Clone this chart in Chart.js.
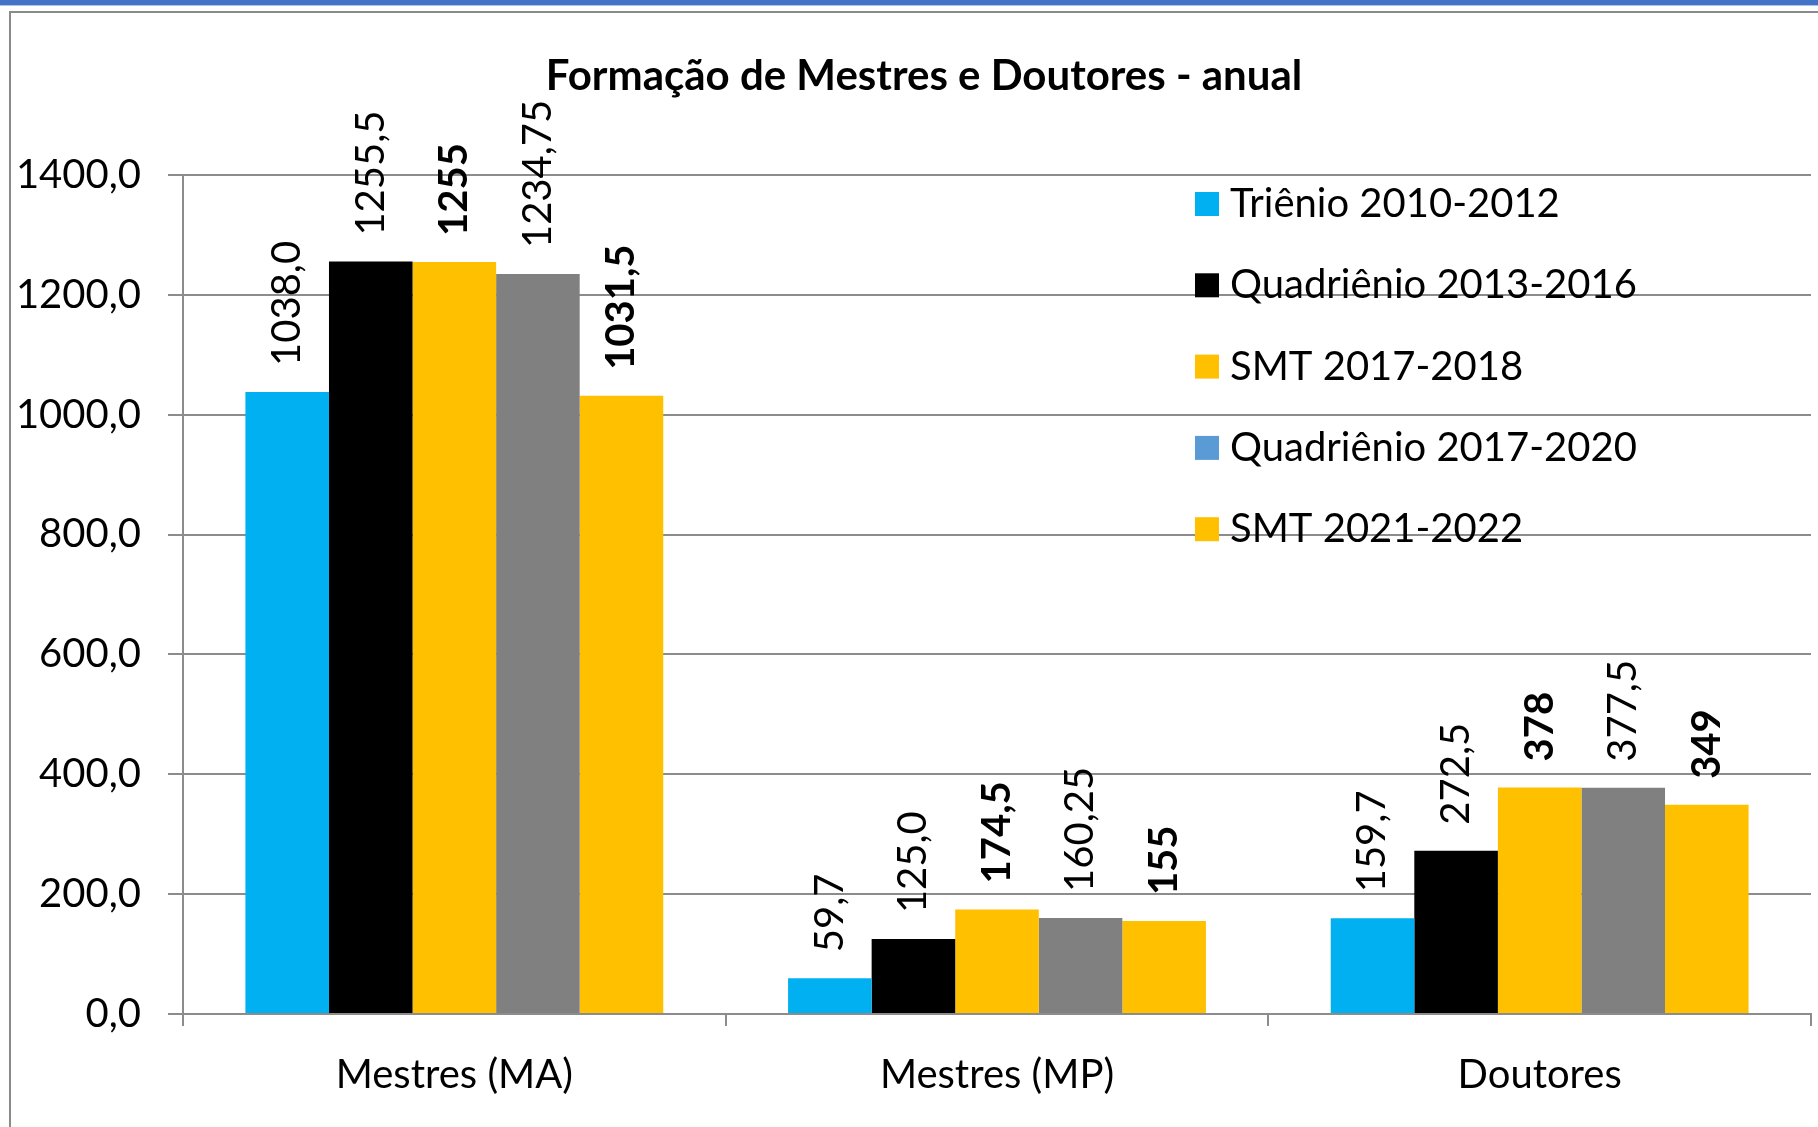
<!DOCTYPE html>
<html>
<head>
<meta charset="utf-8">
<script src="https://cdn.jsdelivr.net/npm/chart.js@4.4.1/dist/chart.umd.min.js"></script>
<style>
  html, body { margin: 0; padding: 0; background: #fff; overflow: hidden; }
  #wrap { position: relative; width: 1818px; height: 1127px; }
  .topbar { position: absolute; left: 0; top: 0; width: 1818px; height: 5px; background: #4472c4; }
  .topline { position: absolute; left: 0; top: 5px; width: 1818px; height: 1px; background: #a9c4eb; }
  .frame { position: absolute; left: 9px; top: 11px; width: 1830px; height: 1140px;
    border-left: 2px solid #8a8a8a; border-top: 2px solid #8a8a8a; }
  canvas { position: absolute; left: 0; top: 0; }
</style>
</head>
<body>
<div id="wrap">
  <div class="topbar"></div>
  <div class="topline"></div>
  <div class="frame"></div>
  <canvas id="chart" width="1818" height="1127"></canvas>
</div>
<script>
const categories = ["Mestres (MA)", "Mestres (MP)", "Doutores"];
const seriesNames = [
  "Triênio 2010-2012",
  "Quadriênio 2013-2016",
  "SMT 2017-2018",
  "Quadriênio 2017-2020",
  "SMT 2021-2022",
];
const trienio1012 = [1038.0, 59.7, 159.7];
const quad1316 = [1255.5, 125.0, 272.5];
const smt1718 = [1255, 174.5, 378];
const quad1720 = [1234.75, 160.25, 377.5];
const smt2122 = [1031.5, 155, 349];
const yTicks = [0, 200, 400, 600, 800, 1000, 1200, 1400];
const chartTitle = "Formação de Mestres e Doutores - anual";

// styling
const barColors = ["#00b0f0", "#000000", "#ffc000", "#808080", "#ffc000"];
const legendColors = ["#00b0f0", "#000000", "#ffc000", "#5b9bd5", "#ffc000"];
const labelBold = [false, false, true, false, true];
const labelDecimals = [1, 1, null, null, null];
const gridColor = "#8c8c8c";
const FONT = "Lato, 'Open Sans', sans-serif";

function fmt(v, dec) {
  const s = dec === null ? String(v) : v.toFixed(dec);
  return s.replace(".", ",");
}

const allSeries = [trienio1012, quad1316, smt1718, quad1720, smt2122];

// rotated value labels above each bar
const valueLabels = {
  id: "valueLabels",
  afterDatasetsDraw(chart) {
    const ctx = chart.ctx;
    chart.data.datasets.forEach((ds, i) => {
      const meta = chart.getDatasetMeta(i);
      meta.data.forEach((bar, j) => {
        ctx.save();
        ctx.translate(bar.x, bar.y - 26);
        ctx.rotate(-Math.PI / 2);
        ctx.font = (labelBold[i] ? "bold " : "") + "40px " + FONT;
        ctx.fillStyle = "#000";
        ctx.textAlign = "left";
        ctx.textBaseline = "middle";
        ctx.fillText(fmt(ds.data[j], labelDecimals[i]), 0, 0);
        ctx.restore();
      });
    });
  },
};

// title and legend drawn over the plot, like the original
const overlay = {
  id: "overlay",
  afterDraw(chart) {
    const ctx = chart.ctx;
    ctx.save();
    ctx.fillStyle = "#000";
    ctx.font = "bold 42px " + FONT;
    ctx.textAlign = "center";
    ctx.textBaseline = "middle";
    ctx.fillText(chartTitle, 924, 76);

    ctx.font = "40px " + FONT;
    ctx.textAlign = "left";
    chart.data.datasets.forEach((ds, i) => {
      const y = 204 + i * 81.3;
      ctx.fillStyle = legendColors[i];
      ctx.fillRect(1195, y - 12, 24, 24);
      ctx.fillStyle = "#000";
      ctx.fillText(ds.label, 1230, y);
    });
    ctx.restore();
  },
};

new Chart(document.getElementById("chart"), {
  type: "bar",
  data: {
    labels: categories,
    datasets: allSeries.map((data, i) => ({
      label: seriesNames[i],
      data: data,
      backgroundColor: barColors[i],
      borderWidth: 0,
    })),
  },
  options: {
    responsive: false,
    animation: false,
    layout: { padding: { left: 0, right: 7, top: 175, bottom: 0 } },
    datasets: { bar: { categoryPercentage: 0.77, barPercentage: 1.0 } },
    plugins: {
      legend: { display: false },
      tooltip: { enabled: false },
      title: { display: false },
    },
    scales: {
      x: {
        grid: { drawOnChartArea: false, drawTicks: true, tickLength: 12, color: gridColor, lineWidth: 2 },
        border: { display: true, color: gridColor, width: 2 },
        ticks: { color: "#000", font: { family: FONT, size: 40 }, padding: 25 },
        afterFit(scale) { scale.height = 113; },
      },
      y: {
        min: 0,
        max: 1400,
        afterBuildTicks(scale) { scale.ticks = yTicks.map((v) => ({ value: v })); },
        grid: { color: gridColor, lineWidth: 2, tickLength: 15 },
        border: { display: true, color: gridColor, width: 2 },
        ticks: {
          color: "#000",
          font: { family: FONT, size: 40 },
          padding: 27,
          callback: (v) => fmt(v, 1),
        },
        afterFit(scale) { scale.width = 183; },
      },
    },
  },
  plugins: [valueLabels, overlay],
});
</script>
</body>
</html>
